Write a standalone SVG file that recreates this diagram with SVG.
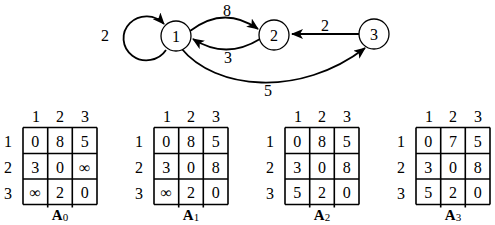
<svg xmlns="http://www.w3.org/2000/svg" width="495" height="225" viewBox="0 0 495 225">
<style>
.n{font-size:16px;text-anchor:middle;dominant-baseline:central}
.node circle{fill:#fff;stroke:#000;stroke-width:1.3}
.edge{fill:none;stroke:#000;stroke-width:1.8;marker-end:url(#ah)}
.grid{fill:none;stroke:#000;stroke-width:1.6}
.cap{font-size:15px;font-weight:bold;text-anchor:middle}
.sub{font-size:11px;font-weight:normal}
</style>
<defs>
<marker id="ah" viewBox="0 0 12 10" refX="11" refY="5" markerWidth="12" markerHeight="10" markerUnits="userSpaceOnUse" orient="auto">
<path d="M0,0 L12,5 L0,10 L3,5 Z" fill="#000"/>
</marker>
</defs>
<g id="connectors">
<path class="edge" d="M166,50 A23,22 0 1 1 164,24"/>
<path class="edge" d="M190,31 Q224,5 258,29"/>
<path class="edge" d="M260,39 Q226,60 193,39"/>
<path class="edge" d="M359,34 L292,34"/>
<path class="edge" d="M181,48 C215,90 300,98 365,48"/>
<text font-family="Liberation Serif" class="n" x="105" y="35">2</text>
<text font-family="Liberation Serif" class="n" x="227" y="10">8</text>
<text font-family="Liberation Serif" class="n" x="228" y="57">3</text>
<text font-family="Liberation Serif" class="n" x="325" y="25">2</text>
<text font-family="Liberation Serif" class="n" x="268" y="90">5</text>
</g>
<g id="node1" class="node"><circle cx="176" cy="36" r="15"/><text font-family="Liberation Serif" class="n" x="176" y="36">1</text></g>
<g id="node2" class="node"><circle cx="274" cy="35" r="15"/><text font-family="Liberation Serif" class="n" x="274" y="35">2</text></g>
<g id="node3" class="node"><circle cx="374" cy="34" r="15"/><text font-family="Liberation Serif" class="n" x="374" y="34">3</text></g>

<g id="A0" transform="translate(23,0)">
<path class="grid" d="M0,127.5H74M0,153.5H74M0,179H74M0,204.5H74M0,127.5V204.5M24.7,127.5V207.5M49.3,127.5V207.5M74,127.5V204.5"/>
<text font-family="Liberation Serif" class="n" x="13" y="116">1</text><text font-family="Liberation Serif" class="n" x="37" y="116">2</text><text font-family="Liberation Serif" class="n" x="62" y="116">3</text>
<text font-family="Liberation Serif" class="n" x="-15" y="141">1</text><text font-family="Liberation Serif" class="n" x="-15" y="167">2</text><text font-family="Liberation Serif" class="n" x="-15" y="193">3</text>
<text font-family="Liberation Serif" class="n" x="12.3" y="141">0</text><text font-family="Liberation Serif" class="n" x="37" y="141">8</text><text font-family="Liberation Serif" class="n" x="61.7" y="141">5</text>
<text font-family="Liberation Serif" class="n" x="12.3" y="167">3</text><text font-family="Liberation Serif" class="n" x="37" y="167">0</text><text font-family="Liberation Serif" class="n" x="61.7" y="167">∞</text>
<text font-family="Liberation Serif" class="n" x="12.3" y="192">∞</text><text font-family="Liberation Serif" class="n" x="37" y="192">2</text><text font-family="Liberation Serif" class="n" x="61.7" y="192">0</text>
<text font-family="Liberation Serif" class="cap" x="37" y="220">A<tspan class="sub" dy="1">0</tspan></text>
</g>

<g id="A1" transform="translate(154,0)">
<path class="grid" d="M0,127.5H74M0,153.5H74M0,179H74M0,204.5H74M0,127.5V204.5M24.7,127.5V207.5M49.3,127.5V207.5M74,127.5V204.5"/>
<text font-family="Liberation Serif" class="n" x="13" y="116">1</text><text font-family="Liberation Serif" class="n" x="37" y="116">2</text><text font-family="Liberation Serif" class="n" x="62" y="116">3</text>
<text font-family="Liberation Serif" class="n" x="-15" y="141">1</text><text font-family="Liberation Serif" class="n" x="-15" y="167">2</text><text font-family="Liberation Serif" class="n" x="-15" y="193">3</text>
<text font-family="Liberation Serif" class="n" x="12.3" y="141">0</text><text font-family="Liberation Serif" class="n" x="37" y="141">8</text><text font-family="Liberation Serif" class="n" x="61.7" y="141">5</text>
<text font-family="Liberation Serif" class="n" x="12.3" y="167">3</text><text font-family="Liberation Serif" class="n" x="37" y="167">0</text><text font-family="Liberation Serif" class="n" x="61.7" y="167">8</text>
<text font-family="Liberation Serif" class="n" x="12.3" y="192">∞</text><text font-family="Liberation Serif" class="n" x="37" y="192">2</text><text font-family="Liberation Serif" class="n" x="61.7" y="192">0</text>
<text font-family="Liberation Serif" class="cap" x="37" y="220">A<tspan class="sub" dy="1">1</tspan></text>
</g>

<g id="A2" transform="translate(285,0)">
<path class="grid" d="M0,127.5H74M0,153.5H74M0,179H74M0,204.5H74M0,127.5V204.5M24.7,127.5V207.5M49.3,127.5V207.5M74,127.5V204.5"/>
<text font-family="Liberation Serif" class="n" x="13" y="116">1</text><text font-family="Liberation Serif" class="n" x="37" y="116">2</text><text font-family="Liberation Serif" class="n" x="62" y="116">3</text>
<text font-family="Liberation Serif" class="n" x="-15" y="141">1</text><text font-family="Liberation Serif" class="n" x="-15" y="167">2</text><text font-family="Liberation Serif" class="n" x="-15" y="193">3</text>
<text font-family="Liberation Serif" class="n" x="12.3" y="141">0</text><text font-family="Liberation Serif" class="n" x="37" y="141">8</text><text font-family="Liberation Serif" class="n" x="61.7" y="141">5</text>
<text font-family="Liberation Serif" class="n" x="12.3" y="167">3</text><text font-family="Liberation Serif" class="n" x="37" y="167">0</text><text font-family="Liberation Serif" class="n" x="61.7" y="167">8</text>
<text font-family="Liberation Serif" class="n" x="12.3" y="192">5</text><text font-family="Liberation Serif" class="n" x="37" y="192">2</text><text font-family="Liberation Serif" class="n" x="61.7" y="192">0</text>
<text font-family="Liberation Serif" class="cap" x="37" y="220">A<tspan class="sub" dy="1">2</tspan></text>
</g>

<g id="A3" transform="translate(416,0)">
<path class="grid" d="M0,127.5H74M0,153.5H74M0,179H74M0,204.5H74M0,127.5V204.5M24.7,127.5V207.5M49.3,127.5V207.5M74,127.5V204.5"/>
<text font-family="Liberation Serif" class="n" x="13" y="116">1</text><text font-family="Liberation Serif" class="n" x="37" y="116">2</text><text font-family="Liberation Serif" class="n" x="62" y="116">3</text>
<text font-family="Liberation Serif" class="n" x="-15" y="141">1</text><text font-family="Liberation Serif" class="n" x="-15" y="167">2</text><text font-family="Liberation Serif" class="n" x="-15" y="193">3</text>
<text font-family="Liberation Serif" class="n" x="12.3" y="141">0</text><text font-family="Liberation Serif" class="n" x="37" y="141">7</text><text font-family="Liberation Serif" class="n" x="61.7" y="141">5</text>
<text font-family="Liberation Serif" class="n" x="12.3" y="167">3</text><text font-family="Liberation Serif" class="n" x="37" y="167">0</text><text font-family="Liberation Serif" class="n" x="61.7" y="167">8</text>
<text font-family="Liberation Serif" class="n" x="12.3" y="192">5</text><text font-family="Liberation Serif" class="n" x="37" y="192">2</text><text font-family="Liberation Serif" class="n" x="61.7" y="192">0</text>
<text font-family="Liberation Serif" class="cap" x="37" y="220">A<tspan class="sub" dy="1">3</tspan></text>
</g>
</svg>
